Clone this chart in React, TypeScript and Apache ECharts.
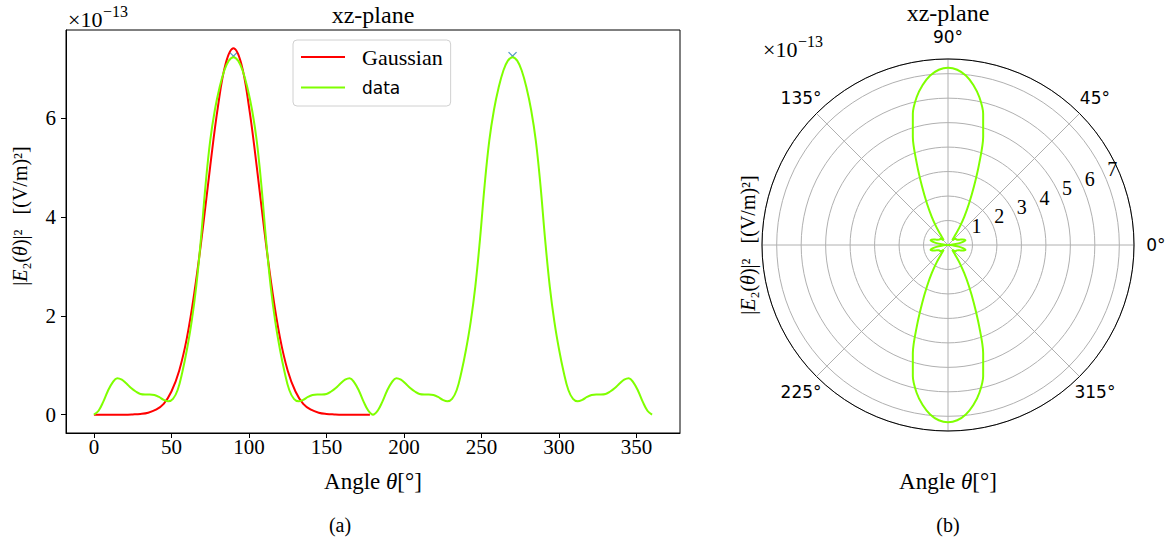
import React, { useEffect, useRef } from 'react';
import * as echarts from 'echarts';

// ---- data ----
const angles = [
  0, 3, 6, 9, 12, 15, 18, 21, 24, 27, 30, 33, 36, 39, 42, 45, 48, 51, 54, 57, 60,
  63, 66, 69, 72, 75, 78, 81, 84, 87, 90, 93, 96, 99, 102, 105, 108, 111, 114, 117, 120,
  123, 126, 129, 132, 135, 138, 141, 144, 147, 150, 153, 156, 159, 162, 165, 168, 171, 174, 177, 180,
  183, 186, 189, 192, 195, 198, 201, 204, 207, 210, 213, 216, 219, 222, 225, 228, 231, 234, 237, 240,
  243, 246, 249, 252, 255, 258, 261, 264, 267, 270, 273, 276, 279, 282, 285, 288, 291, 294, 297, 300,
  303, 306, 309, 312, 315, 318, 321, 324, 327, 330, 333, 336, 339, 342, 345, 348, 351, 354, 357, 360,
];
const dataVals = [
  0.0, 0.08, 0.26, 0.48, 0.65, 0.74, 0.71, 0.63, 0.54, 0.47, 0.42, 0.41, 0.41, 0.4, 0.36, 0.3, 0.27, 0.32, 0.5, 0.86, 1.32,
  1.88, 2.6, 3.55, 4.65, 5.55, 6.17, 6.62, 6.96, 7.17, 7.24, 7.17, 6.96, 6.62, 6.17, 5.55, 4.65, 3.55, 2.6, 1.88, 1.32,
  0.86, 0.5, 0.32, 0.27, 0.3, 0.36, 0.4, 0.41, 0.41, 0.42, 0.47, 0.54, 0.63, 0.71, 0.74, 0.65, 0.48, 0.26, 0.08, 0.0,
  0.08, 0.26, 0.48, 0.65, 0.74, 0.71, 0.63, 0.54, 0.47, 0.42, 0.41, 0.41, 0.4, 0.36, 0.3, 0.27, 0.32, 0.5, 0.86, 1.32,
  1.88, 2.6, 3.55, 4.65, 5.55, 6.17, 6.62, 6.96, 7.17, 7.24, 7.17, 6.96, 6.62, 6.17, 5.55, 4.65, 3.55, 2.6, 1.88, 1.32,
  0.86, 0.5, 0.32, 0.27, 0.3, 0.36, 0.4, 0.41, 0.41, 0.42, 0.47, 0.54, 0.63, 0.71, 0.74, 0.65, 0.48, 0.26, 0.08, 0.0,
];
const gaussAngles = [
  0, 10, 20, 25, 30, 35, 40, 45, 50, 55, 60, 65, 70, 75, 80, 85, 90,
  95, 100, 105, 110, 115, 120, 125, 130, 135, 140, 145, 150, 155, 160, 170, 178,
];
const gaussVals = [
  0, 0, 0, 0.005, 0.015, 0.04, 0.1, 0.22, 0.47, 0.89, 1.56, 2.52, 3.71, 5.03, 6.24, 7.11, 7.42,
  7.11, 6.24, 5.03, 3.71, 2.52, 1.56, 0.89, 0.47, 0.22, 0.1, 0.04, 0.015, 0.005, 0, 0, 0,
];
const peakAngles = [90, 270];
const peakVals = [7.26, 7.26];

const xTicks = [0, 50, 100, 150, 200, 250, 300, 350];
const yTicks = [0, 2, 4, 6];
const rTicks = [1, 2, 3, 4, 5, 6, 7];
const angleLabelAngles = [0, 45, 90, 135, 225, 315];
const angleLabelTexts = ['0°', '45°', '90°', '135°', '225°', '315°'];
const ANGLE_LABEL_R = 8.49; // radial position (data units) where angle labels are centred

const SERIF = "'Liberation Serif', 'DejaVu Serif', serif";
const SANS = "'DejaVu Sans', sans-serif";
const GREEN = '#7fff00';
const RED = '#ff0000';
const BLUE = '#1f77b4';
const GRID_GRAY = '#b0b0b0';

function label(x: number, y: number, text: string, extra: any = {}) {
  const { rotation, align, ...style } = extra;
  return {
    type: 'text',
    x,
    y,
    rotation: rotation || 0,
    silent: true,
    style: {
      text,
      fill: '#000',
      fontFamily: SERIF,
      fontSize: 20,
      align: align || 'center',
      verticalAlign: 'middle',
      ...style,
    },
  };
}

const italic = (size: number) => ({
  i: { fontFamily: SERIF, fontSize: size, fontStyle: 'italic', fill: '#000' },
});

export default function App() {
  const ref = useRef<HTMLDivElement>(null);

  useEffect(() => {
    if (!ref.current) return;
    const chart = echarts.init(ref.current, null, { renderer: 'svg' });

    const option: any = {
      animation: false,
      backgroundColor: '#ffffff',
      grid: {
        left: 66,
        top: 30,
        width: 614,
        height: 403,
        show: true,
        borderColor: '#000',
        borderWidth: 1,
        backgroundColor: 'transparent',
      },
      xAxis: {
        type: 'value',
        min: -18,
        max: 378,
        axisLine: { show: true, onZero: false, lineStyle: { color: '#000', width: 1 } },
        axisTick: { show: true, length: 5, lineStyle: { color: '#000' }, customValues: xTicks },
        axisLabel: { customValues: xTicks, color: '#000', fontFamily: SERIF, fontSize: 21, margin: 3 },
        splitLine: { show: false },
      },
      yAxis: {
        type: 'value',
        min: -0.371,
        max: 7.79,
        axisLine: { show: true, onZero: false, lineStyle: { color: '#000', width: 1 } },
        axisTick: { show: true, length: 5, lineStyle: { color: '#000' }, customValues: yTicks },
        axisLabel: { customValues: yTicks, color: '#000', fontFamily: SERIF, fontSize: 21, margin: 10 },
        splitLine: { show: false },
      },
      polar: [
        { center: [948, 245], radius: 186 },
        { center: [954, 235], radius: 186 },
      ],
      angleAxis: [
        {
          polarIndex: 0,
          type: 'value',
          min: 0,
          max: 360,
          interval: 45,
          startAngle: 0,
          clockwise: false,
          axisLine: { show: true, lineStyle: { color: '#000', width: 1 } },
          axisTick: { show: false },
          axisLabel: { show: false },
          splitLine: { show: true, lineStyle: { color: GRID_GRAY, width: 1 } },
        },
        {
          polarIndex: 1,
          type: 'value',
          min: 0,
          max: 360,
          startAngle: 22.5,
          clockwise: false,
          axisLine: { show: false },
          axisTick: { show: false },
          axisLabel: { show: false },
          splitLine: { show: false },
        },
      ],
      radiusAxis: [
        {
          polarIndex: 0,
          type: 'value',
          min: 0,
          max: 7.6,
          interval: 1,
          axisLine: { show: false },
          axisTick: { show: false },
          axisLabel: { show: false },
          splitLine: { show: true, lineStyle: { color: GRID_GRAY, width: 1 } },
        },
        {
          polarIndex: 1,
          type: 'value',
          min: 0,
          max: 7.6,
          interval: 1,
          axisLine: { show: false },
          axisTick: { show: false },
          splitLine: { show: false },
          axisLabel: {
            show: true,
            margin: 0,
            align: 'center',
            verticalAlign: 'middle',
            color: '#000',
            fontFamily: SERIF,
            fontSize: 20,
            formatter: (v: number) => (rTicks.indexOf(v) >= 0 ? String(v) : ''),
          },
        },
      ],
      legend: {
        data: ['Gaussian', 'data'],
        left: 293,
        top: 40,
        orient: 'vertical',
        icon: 'rect',
        itemWidth: 44,
        itemHeight: 2,
        itemGap: 11,
        padding: [6, 8, 10, 8],
        backgroundColor: 'rgba(255,255,255,0.8)',
        borderColor: '#d0d0d0',
        borderWidth: 1,
        borderRadius: 4,
        formatter: (name: string) => (name === 'data' ? '{s|data}' : '{g|Gaussian}'),
        textStyle: {
          rich: {
            g: { fontFamily: SERIF, fontSize: 22, lineHeight: 22, color: '#000', padding: [0, 0, 0, 12] },
            s: { fontFamily: SANS, fontSize: 17, lineHeight: 22, color: '#000', padding: [0, 0, 0, 12] },
          },
        },
      },
      series: [
        {
          type: 'scatter',
          name: 'peaks',
          xAxisIndex: 0,
          yAxisIndex: 0,
          data: peakAngles.map((a, i) => [a, peakVals[i]]),
          symbol: 'path://M0,0L10,10M0,10L10,0',
          symbolSize: 8,
          itemStyle: { color: 'transparent', borderColor: BLUE, borderWidth: 1.2 },
          z: 1,
        },
        {
          type: 'line',
          name: 'Gaussian',
          xAxisIndex: 0,
          yAxisIndex: 0,
          data: gaussAngles.map((a, i) => [a, gaussVals[i]]),
          smooth: 0.4,
          symbol: 'none',
          showSymbol: false,
          color: RED,
          lineStyle: { color: RED, width: 2 },
          z: 2,
        },
        {
          type: 'line',
          name: 'data',
          xAxisIndex: 0,
          yAxisIndex: 0,
          data: angles.map((a, i) => [a, dataVals[i]]),
          smooth: 0.4,
          symbol: 'none',
          showSymbol: false,
          color: GREEN,
          lineStyle: { color: GREEN, width: 2 },
          z: 3,
        },
        {
          type: 'line',
          name: 'polarData',
          coordinateSystem: 'polar',
          polarIndex: 0,
          data: angles.map((a, i) => [dataVals[i], a]),
          smooth: 0.3,
          symbol: 'none',
          showSymbol: false,
          color: GREEN,
          lineStyle: { color: GREEN, width: 2 },
          z: 3,
        },
        {
          type: 'scatter',
          name: 'angleLabels',
          coordinateSystem: 'polar',
          polarIndex: 0,
          clip: false,
          data: angleLabelAngles.map((a) => [ANGLE_LABEL_R, a]),
          symbolSize: 1,
          itemStyle: { color: 'transparent' },
          silent: true,
          label: {
            show: true,
            position: 'inside',
            align: 'center',
            verticalAlign: 'middle',
            formatter: (p: any) => angleLabelTexts[p.dataIndex],
            color: '#000',
            opacity: 1,
            textBorderWidth: 0,
            textBorderColor: 'transparent',
            fontFamily: SANS,
            fontSize: 17,
          },
          z: 5,
        },
      ],
      graphic: [
        label(373, 15, 'xz-plane', { fontSize: 24 }),
        label(68, 19, '×10', { align: 'left', fontSize: 22 }),
        label(103, 11, '−13', { align: 'left', fontSize: 16 }),
        label(948, 13, 'xz-plane', { fontSize: 24 }),
        label(763, 49, '×10', { align: 'left', fontSize: 22 }),
        label(798, 41, '−13', { align: 'left', fontSize: 16 }),
        label(20, 216, '|{i|E}₂({i|θ})|²   [(V/m)²]', { rotation: Math.PI / 2, fontSize: 20, rich: italic(20) }),
        label(748, 245, '|{i|E}₂({i|θ})|²   [(V/m)²]', { rotation: Math.PI / 2, fontSize: 20, rich: italic(20) }),
        label(373, 481, 'Angle {i|θ}[°]', { fontSize: 23, rich: italic(23) }),
        label(948, 481, 'Angle {i|θ}[°]', { fontSize: 23, rich: italic(23) }),
        label(340, 525, '(a)', { fontSize: 20 }),
        label(948, 525, '(b)', { fontSize: 20 }),
      ],
    };

    chart.setOption(option);
    return () => chart.dispose();
  }, []);

  return (
    <div
      ref={ref}
      style={{ position: 'fixed', left: 0, top: 0, width: 1172, height: 547, background: '#fff' }}
    />
  );
}
